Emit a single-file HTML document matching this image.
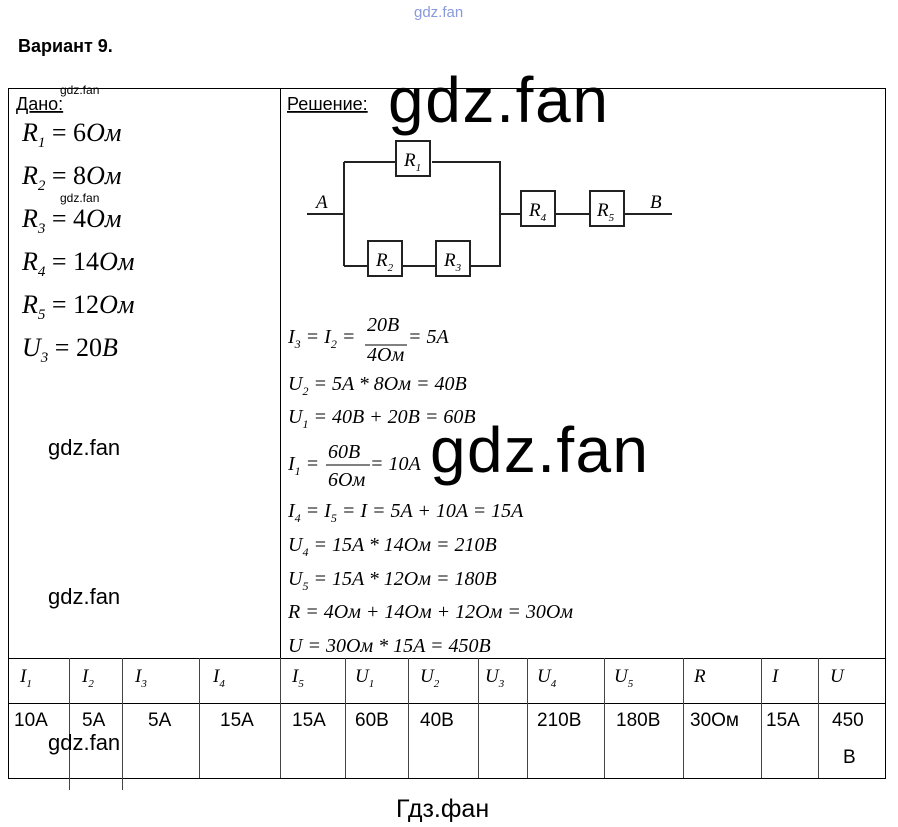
<!DOCTYPE html><html><head><meta charset="utf-8"><style>body{margin:0;background:#fff}svg{display:block}</style></head><body>
<svg width="898" height="827" xmlns="http://www.w3.org/2000/svg" font-family="Liberation Serif, serif">
<rect width="898" height="827" fill="#fff"/>
<text x="414" y="17" font-family="Liberation Sans,sans-serif" font-size="15" fill="#8899dd">gdz.fan</text>
<text x="18" y="52" font-family="Liberation Sans,sans-serif" font-size="18" font-weight="bold">Вариант 9.</text>
<g stroke="#000" stroke-width="1" fill="none">
<rect x="8.5" y="88.5" width="877" height="690"/>
<line x1="280.5" y1="88" x2="280.5" y2="658"/>
<line x1="8" y1="658.5" x2="885" y2="658.5"/>
<line x1="8" y1="703.5" x2="885" y2="703.5"/>
<g stroke="#444">
<line x1="69.5" y1="658" x2="69.5" y2="790"/><line x1="122.5" y1="658" x2="122.5" y2="790"/><line x1="199.5" y1="658" x2="199.5" y2="778"/><line x1="280.5" y1="658" x2="280.5" y2="778"/><line x1="345.5" y1="658" x2="345.5" y2="778"/><line x1="408.5" y1="658" x2="408.5" y2="778"/><line x1="478.5" y1="658" x2="478.5" y2="778"/><line x1="527.5" y1="658" x2="527.5" y2="778"/><line x1="604.5" y1="658" x2="604.5" y2="778"/><line x1="683.5" y1="658" x2="683.5" y2="778"/><line x1="761.5" y1="658" x2="761.5" y2="778"/><line x1="818.5" y1="658" x2="818.5" y2="778"/>
</g>
</g>
<g font-family="Liberation Sans,sans-serif" font-size="18">
<text x="16" y="110" text-decoration="underline">Дано:</text>
<text x="287" y="110" text-decoration="underline">Решение:</text>
</g>
<g font-family="Liberation Sans,sans-serif" font-size="12"><text x="60" y="94">gdz.fan</text><text x="60" y="202">gdz.fan</text></g>
<g font-family="Liberation Sans,sans-serif" font-size="22">
<text x="48" y="455">gdz.fan</text><text x="48" y="604">gdz.fan</text><text x="48" y="750">gdz.fan</text>
</g>
<g font-family="Liberation Sans,sans-serif" font-size="64"><text x="388" y="122" textLength="220">gdz.fan</text><text x="430" y="472" textLength="218">gdz.fan</text></g>
<text x="396" y="817" font-family="Liberation Sans,sans-serif" font-size="25">Гдз.фан</text>
<g font-size="26" font-style="italic">
<text x="22" y="141">R<tspan font-size="15" dy="6">1</tspan><tspan dy="-6" font-style="normal"> = 6</tspan>Ом</text>
<text x="22" y="184">R<tspan font-size="15" dy="6">2</tspan><tspan dy="-6" font-style="normal"> = 8</tspan>Ом</text>
<text x="22" y="227">R<tspan font-size="15" dy="6">3</tspan><tspan dy="-6" font-style="normal"> = 4</tspan>Ом</text>
<text x="22" y="270">R<tspan font-size="15" dy="6">4</tspan><tspan dy="-6" font-style="normal"> = 14</tspan>Ом</text>
<text x="22" y="313">R<tspan font-size="15" dy="6">5</tspan><tspan dy="-6" font-style="normal"> = 12</tspan>Ом</text>
<text x="22" y="356">U<tspan font-size="15" dy="6">3</tspan><tspan dy="-6" font-style="normal"> = 20</tspan>В</text>
</g>
<g stroke="#222" stroke-width="2" fill="none">
<polyline points="307,214 344,214"/><polyline points="344,162 344,266"/><polyline points="344,162 396,162"/><polyline points="432,162 500,162 500,266 471,266"/><polyline points="344,266 368,266"/><polyline points="403,266 436,266"/>
<polyline points="500,214 521,214"/><polyline points="556,214 590,214"/><polyline points="625,214 672,214"/>
<rect x="396" y="141" width="34" height="35"/><rect x="368" y="241" width="34" height="35"/><rect x="436" y="241" width="34" height="35"/><rect x="521" y="191" width="34" height="35"/><rect x="590" y="191" width="34" height="35"/>
</g>
<g font-size="19" font-style="italic">
<text x="404" y="166">R<tspan font-size="11" dy="5">1</tspan></text>
<text x="376" y="266">R<tspan font-size="11" dy="5">2</tspan></text>
<text x="444" y="266">R<tspan font-size="11" dy="5">3</tspan></text>
<text x="529" y="216">R<tspan font-size="11" dy="5">4</tspan></text>
<text x="597" y="216">R<tspan font-size="11" dy="5">5</tspan></text>
<text x="316" y="208">A</text><text x="650" y="208">B</text>
</g>
<g font-size="20" font-style="italic">
<text x="288" y="343">I<tspan font-size="12" dy="5">3</tspan><tspan dy="-5"> = I</tspan><tspan font-size="12" dy="5">2</tspan><tspan dy="-5"> =</tspan></text>
<text x="367" y="331">20B</text><text x="367" y="361">4Ом</text><line x1="365" y1="345" x2="407" y2="345" stroke="#000"/>
<text x="408" y="343"> = 5A</text>
<text x="288" y="390">U<tspan font-size="12" dy="5">2</tspan><tspan dy="-5"> = 5A * 8Ом = 40B</tspan></text>
<text x="288" y="423">U<tspan font-size="12" dy="5">1</tspan><tspan dy="-5"> = 40B + 20B = 60B</tspan></text>
<text x="288" y="470">I<tspan font-size="12" dy="5">1</tspan><tspan dy="-5"> =</tspan></text>
<text x="328" y="458">60B</text><text x="328" y="486">6Ом</text><line x1="326" y1="465" x2="370" y2="465" stroke="#000"/>
<text x="370" y="470"> = 10A</text>
<text x="288" y="517">I<tspan font-size="12" dy="5">4</tspan><tspan dy="-5"> = I</tspan><tspan font-size="12" dy="5">5</tspan><tspan dy="-5"> = I = 5A + 10A = 15A</tspan></text>
<text x="288" y="551">U<tspan font-size="12" dy="5">4</tspan><tspan dy="-5"> = 15A * 14Ом = 210B</tspan></text>
<text x="288" y="585">U<tspan font-size="12" dy="5">5</tspan><tspan dy="-5"> = 15A * 12Ом = 180B</tspan></text>
<text x="288" y="618">R = 4Ом + 14Ом + 12Ом = 30Ом</text>
<text x="288" y="652">U = 30Ом * 15A = 450B</text>
</g>
<g font-size="19" font-style="italic">
<text x="20" y="682">I<tspan font-size="11" dy="5">1</tspan></text><text x="82" y="682">I<tspan font-size="11" dy="5">2</tspan></text><text x="135" y="682">I<tspan font-size="11" dy="5">3</tspan></text><text x="213" y="682">I<tspan font-size="11" dy="5">4</tspan></text><text x="292" y="682">I<tspan font-size="11" dy="5">5</tspan></text><text x="355" y="682">U<tspan font-size="11" dy="5">1</tspan></text><text x="420" y="682">U<tspan font-size="11" dy="5">2</tspan></text><text x="485" y="682">U<tspan font-size="11" dy="5">3</tspan></text><text x="537" y="682">U<tspan font-size="11" dy="5">4</tspan></text><text x="614" y="682">U<tspan font-size="11" dy="5">5</tspan></text><text x="694" y="682">R</text><text x="772" y="682">I</text><text x="830" y="682">U</text>
</g>
<g font-family="Liberation Sans,sans-serif" font-size="19">
<text x="14" y="726">10A</text><text x="82" y="726">5A</text><text x="148" y="726">5A</text><text x="220" y="726">15A</text><text x="292" y="726">15A</text><text x="355" y="726">60B</text><text x="420" y="726">40B</text><text x="537" y="726">210B</text><text x="616" y="726">180B</text><text x="690" y="726">30Ом</text><text x="766" y="726">15A</text><text x="832" y="726">450</text><text x="843" y="763">B</text>
</g>
</svg>
</body></html>
